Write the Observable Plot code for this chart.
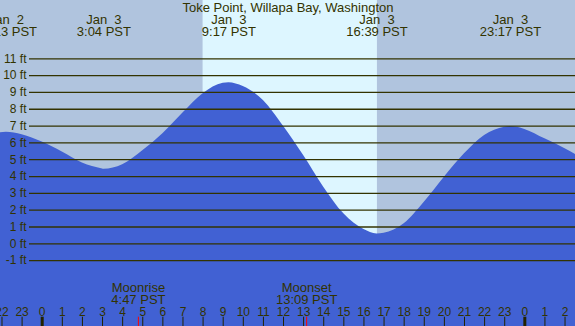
<!DOCTYPE html>
<html><head><meta charset="utf-8">
<script src="https://cdn.jsdelivr.net/npm/d3@7"></script>
<script src="https://cdn.jsdelivr.net/npm/@observablehq/plot@0.6"></script>
<style>html,body{margin:0;padding:0;background:#b0c4de;overflow:hidden} svg{display:block}</style>
</head><body><div id="chart"></div>
<script>
const title = "Toke Point, Willapa Bay, Washington";
// tide height (ft), hours relative to Jan 3 00:00 PST
const tideHours = [-2.074, -1.78, -1, 0, 1, 2, 3, 3.067, 4, 5, 6, 7, 8, 9, 9.283, 10, 11, 12, 13, 14, 15, 16, 16.65, 17, 18, 19, 20, 21, 22, 23, 23.283, 24, 25, 26, 26.52];
const tideFeet  = [6.60, 6.63, 6.48, 6.05, 5.46, 4.81, 4.45, 4.43, 4.70, 5.53, 6.54, 7.77, 8.92, 9.54, 9.58, 9.35, 8.52, 6.99, 5.25, 3.37, 1.78, 0.85, 0.59, 0.63, 1.19, 2.47, 3.96, 5.35, 6.44, 6.93, 6.97, 6.80, 6.24, 5.65, 5.31];
const extremeHours = [-1.783, 3.067, 9.283, 16.65, 23.283];
const extremeDates = ["Jan\u00a0\u00a02", "Jan\u00a0\u00a03", "Jan\u00a0\u00a03", "Jan\u00a0\u00a03", "Jan\u00a0\u00a03"];
const extremeTimes = ["22:13 PST", "3:04 PST", "9:17 PST", "16:39 PST", "23:17 PST"];
const sunrise = 8.0, sunset = 16.67;
const moonHours = [4.783, 13.15];
const moonNames = ["Moonrise", "Moonset"];
const moonTimes = ["4:47 PST", "13:09 PST"];
const feetTicks = [-1, 0, 1, 2, 3, 4, 5, 6, 7, 8, 9, 10, 11];
const hourTicks = [-2, -1, 0, 1, 2, 3, 4, 5, 6, 7, 8, 9, 10, 11, 12, 13, 14, 15, 16, 17, 18, 19, 20, 21, 22, 23, 24, 25, 26];

const W = 575, H = 326;
const xDomain = [-2.074, 26.52];
const pxPerHour = W / (xDomain[1] - xDomain[0]);
const pxPerFt = 16.82;
const yDomain = [-(H - 243.3) / pxPerFt, 11 + 58.3 / pxPerFt];
const ink = "#333300";

const tide = tideHours.map((h, i) => ({h, ft: tideFeet[i]}));
const extremes = extremeHours.map((h, i) => ({h, label: extremeDates[i] + "\n" + extremeTimes[i]}));
const moons = moonHours.map((h, i) => ({h, label: moonNames[i] + "\n" + moonTimes[i]}));
const tickTop = yDomain[0] + 9.3 / pxPerFt;
const gridStart = xDomain[0] + 29 / pxPerHour;

const chart = Plot.plot({
  width: W, height: H,
  marginTop: 0, marginRight: 0, marginBottom: 0, marginLeft: 0,
  x: {domain: xDomain, axis: null},
  y: {domain: yDomain, axis: null},
  style: {background: "#b0c4de", color: ink, fontFamily: "'Liberation Sans', Arial, sans-serif", fontSize: "13px"},
  marks: [
    Plot.rect([{a: sunrise, b: sunset}], {x1: "a", x2: "b", fill: "#ddf6ff"}),
    Plot.areaY(tide, {x: "h", y1: yDomain[0], y2: "ft", curve: "monotone-x", fill: "#4161d3"}),
    Plot.ruleY(feetTicks, {y: d => d, x1: gridStart, x2: xDomain[1], stroke: ink, strokeWidth: 1.3}),
    Plot.text(feetTicks, {y: d => d, text: d => `${d} ft`, frameAnchor: "left", dx: 26, textAnchor: "end", fontSize: 12, fill: ink}),
    Plot.ruleX(hourTicks.filter(d => d % 24 !== 0), {x: d => d, y1: yDomain[0], y2: tickTop, stroke: "#222200", strokeWidth: 1}),
    Plot.ruleX(hourTicks.filter(d => d % 24 === 0), {x: d => d, y1: yDomain[0], y2: tickTop, stroke: "#222200", strokeWidth: 3}),
    Plot.ruleX(moonHours, {x: d => d, y1: yDomain[0], y2: tickTop, stroke: "#ff0000", strokeWidth: 1}),
    Plot.text(hourTicks, {x: d => d, text: d => String(((d % 24) + 24) % 24), frameAnchor: "bottom", dy: -14.3, lineAnchor: "middle", fontSize: 12, fill: ink}),
    Plot.text(moons, {x: "h", text: "label", frameAnchor: "bottom", dy: -32.7, lineAnchor: "middle", lineHeight: 0.92, fontSize: 13, fill: ink}),
    Plot.text(extremes, {x: "h", text: "label", frameAnchor: "top", dy: 25.85, lineAnchor: "middle", lineHeight: 0.9, fontSize: 13, fill: ink}),
    Plot.text([title], {text: d => d, frameAnchor: "top", dy: 7.3, lineAnchor: "middle", fontSize: 13, fill: ink})
  ]
});
document.getElementById("chart").append(chart);
</script>
</body></html>
